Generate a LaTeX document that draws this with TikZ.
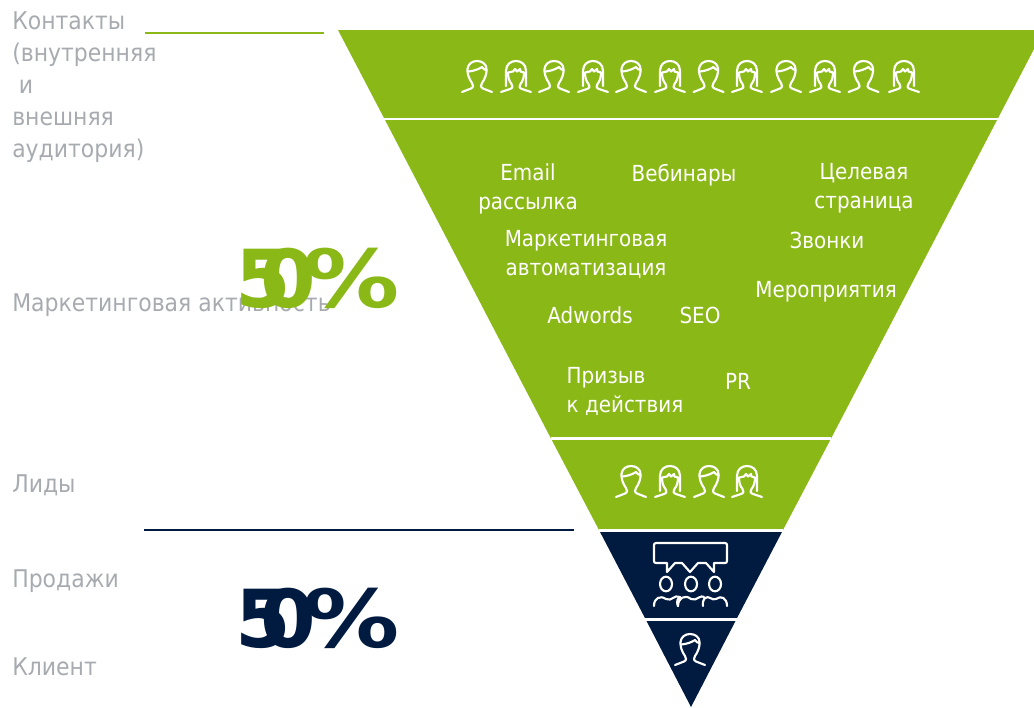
\documentclass[tikz,border=0pt]{standalone}
\usepackage{graphicx}
\usepackage{fontspec}
\setmainfont[FakeStretch=0.9]{DejaVu Sans}
\newfontfamily\bigfont{DejaVu Sans}
\definecolor{fgreen}{HTML}{8AB817}
\definecolor{fnavy}{HTML}{001A40}
\definecolor{fgray}{HTML}{A7ABB0}
\newcommand{\pctmark}{5\kern-23pt 0\kern-9pt \scalebox{1.2}[1]{\%}}
\tikzset{
  x=0.75pt,y=-0.75pt,
  band/.style={fill=#1,draw=none},
  sep/.style={draw=white,line width=1.6pt},
  rule/.style={line width=1.5pt},
  graylabel/.style={anchor=west,inner sep=0pt,text=fgray,align=left,font=\fontsize{18.3}{24}\selectfont},
  whitelabel/.style={inner sep=0pt,text=white,align=center,font=\fontsize{16.6}{21.7}\selectfont},
  bigpct/.style={inner sep=0pt,anchor=west,font=\bigfont\bfseries\fontsize{60}{60}\selectfont},
  icon/.style={draw=white,line width=1.6pt,line cap=round,line join=round,fill=none},
  pics/man/.style={code={
    \draw[icon] (-15,31) -- (-6,27.5) .. controls (-3,26) and (-4,24) .. (-5,22) .. controls (-8,18) and (-10,12) .. (-9.5,8) .. controls (-9,3) and (-5,0) .. (0,0) .. controls (5,0) and (9.5,3) .. (9.5,8) .. controls (10,12) and (8,18) .. (5,22) .. controls (4,24) and (3,26) .. (6,27.5) -- (15,31);
    \draw[icon] (-8.5,10.5) .. controls (-3,10) and (2,8) .. (5,6) .. controls (6,8) and (8,9) .. (9.5,9);
  }},
  pics/woman/.style={code={
    \draw[icon] (-10,25) -- (-10,10) .. controls (-10,3) and (-5,0) .. (0,0) .. controls (5,0) and (10,3) .. (10,10) -- (10,25);
    \draw[icon] (-15,31) -- (-6,28) .. controls (-3,27) and (-3,25) .. (-4.5,23) .. controls (-7,20) and (-8,16) .. (-8,11.5) -- (-3,10.5) -- (-1,8) -- (1,10.5) -- (4,8) -- (4.5,10.5) -- (8,11.5) .. controls (8,16) and (7,20) .. (4.5,23) .. controls (3,25) and (3,27) .. (6,28) -- (15,31);
  }},
}
\begin{document}
\begin{tikzpicture}
\useasboundingbox (0,0) rectangle (1034,707);
% funnel bands
\fill[band=fgreen] (338,30) -- (1034,30) -- (1034,49) -- (998.1,118) -- (384,118) -- cycle;
\fill[band=fgreen] (384,118) -- (998.1,118) -- (831.3,438) -- (550.7,438) -- cycle;
\fill[band=fgreen] (550.7,438) -- (831.3,438) -- (783,530) -- (599,530) -- cycle;
\fill[band=fnavy] (599,530) -- (783,530) -- (736,620) -- (646,620) -- cycle;
\fill[band=fnavy] (646,620) -- (736,620) -- (691,707) -- cycle;
% separators
\coordinate (s1a) at (384,119); \coordinate (s1b) at (998,119);
\coordinate (s2a) at (551,438.5); \coordinate (s2b) at (831,438.5);
\coordinate (s3a) at (599,530.5); \coordinate (s3b) at (783,530.5);
\coordinate (s4a) at (643,619.5); \coordinate (s4b) at (737,619.5);
\draw[sep] (s1a) -- (s1b);
\draw[sep] (s2a) -- (s2b);
\draw[sep] (s3a) -- (s3b);
\draw[sep] (s4a) -- (s4b);
% rules
\coordinate (r1a) at (145,33); \coordinate (r1b) at (324,33);
\coordinate (r2a) at (144,530); \coordinate (r2b) at (574,530);
\draw[rule,draw=fgreen] (r1a) -- (r1b);
\draw[rule,draw=fnavy] (r2a) -- (r2b);
% left labels
\node[graylabel] (l1) at (12,87) {Контакты\\(внутренняя\\\hspace*{5pt}и\\внешняя\\аудитория)};
\node[graylabel] (l2) at (12,305) {Маркетинговая активность};
\node[graylabel] (l3) at (12,485) {Лиды};
\node[graylabel] (l4) at (12,581) {Продажи};
\node[graylabel] (l5) at (12,667) {Клиент};
% big numbers
\node[bigpct,text=fgreen] (p1) at (235,278) {\pctmark};
\node[bigpct,text=fnavy] (p2) at (235,618) {\pctmark};
% white labels
\node[whitelabel] (w1) at (528,188.5) {Email\\рассылка};
\node[whitelabel] (w2) at (684,175) {Вебинары};
\node[whitelabel] (w3) at (864,188.5) {Целевая\\страница};
\node[whitelabel] (w4) at (586,254) {Маркетинговая\\автоматизация};
\node[whitelabel] (w5) at (827,240) {Звонки};
\node[whitelabel] (w6) at (826,292) {Мероприятия};
\node[whitelabel] (w7) at (590,315) {Adwords};
\node[whitelabel] (w8) at (700,315) {SEO};
\node[whitelabel,align=left] (w9) at (625,391) {Призыв\\к действия};
\node[whitelabel] (w10) at (738,381) {PR};
% people, top band
\foreach \i/\xx in {0/477,2/554,4/631,6/708.5,8/786,10/863.5}
  \pic at (\xx,61) {man};
\foreach \i/\xx in {1/516,3/593,5/670,7/747,9/825,11/904}
  \pic at (\xx,61) {woman};
% people, leads band
\pic at (631,466) {man};
\pic at (670,466) {woman};
\pic at (709,466) {man};
\pic at (747,466) {woman};
% audience icon
\draw[icon] (656,543) -- (725,543) .. controls (726.5,543) and (727,544) .. (727,545) -- (727,561) .. controls (727,562.5) and (726,563) .. (725,563) -- (714,563) -- (714,572) -- (706,563) -- (698,563) -- (690,572) -- (682,563) -- (675,563) -- (667,572) -- (667,563) -- (656,563) .. controls (654.5,563) and (654,562) .. (654,561) -- (654,545) .. controls (654,544) and (654.5,543) .. (656,543) -- cycle;
\draw[icon] (666,584) ellipse [x radius=6,y radius=7.3];
\draw[icon] (691,584) ellipse [x radius=6,y radius=7.3];
\draw[icon] (715,584) ellipse [x radius=6,y radius=7.3];
\draw[icon] (654,606) .. controls (654,598) and (660,595) .. (666,599) .. controls (672,602) and (674,594) .. (680,597) .. controls (675,600) and (678,606) .. (678,606);
\draw[icon] (678,606) .. controls (678,598) and (685,594) .. (691,599) .. controls (697,602) and (700,593) .. (705,598) .. controls (702,601) and (703,606) .. (703,606);
\draw[icon] (705,598) .. controls (709,595) and (712,601) .. (716,599) .. controls (721,595) and (727,598) .. (727,606);
% client icon
\pic at (690,634) {man};
\end{tikzpicture}
\end{document}
